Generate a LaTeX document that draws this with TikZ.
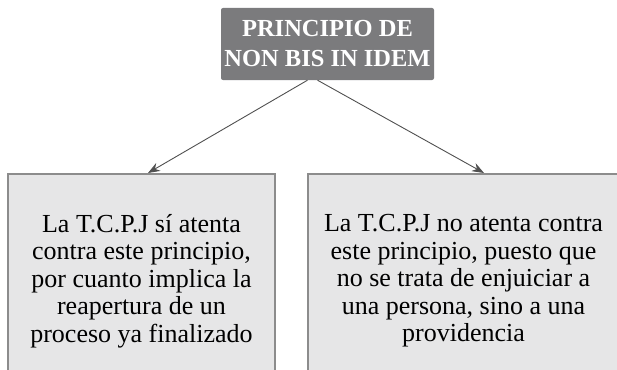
\documentclass[tikz,border=0pt]{standalone}
\usepackage{fontspec}
\setmainfont{Liberation Serif}
\usetikzlibrary{arrows.meta}
\definecolor{headgray}{HTML}{7B7B7D}
\definecolor{casegray}{HTML}{E6E6E7}
\definecolor{edgegray}{HTML}{8C8C8C}
\definecolor{linkgray}{HTML}{505050}
\begin{document}
\begin{tikzpicture}[x=1pt,y=-1pt,
  headbox/.style={fill=headgray,rounded corners=2pt,text=white,align=center,
    font=\fontsize{24.5}{30}\selectfont\bfseries,minimum width=213pt,minimum height=72pt},
  casebox/.style={fill=casegray,draw=edgegray,line width=2pt,align=center,
    font=\fontsize{26}{27.5}\selectfont,minimum height=214pt},
  link/.style={-{Stealth[length=12pt,width=9pt]},draw=linkgray,line width=0.9pt}]
  \useasboundingbox (0,0) rectangle (617,369);

  % Title
  \node[headbox] (head) at (327.5,44) {PRINCIPIO DE\\NON BIS IN IDEM};

  % Cases
  \node[casebox,minimum width=267pt] (yes) at (141.5,281)
    {La T.C.P.J sí atenta\\contra este principio,\\por cuanto implica la\\reapertura de un\\proceso ya finalizado};
  \node[casebox,minimum width=311pt] (no) at (463.5,281)
    {La T.C.P.J no atenta contra\\este principio, puesto que\\no se trata de enjuiciar a\\una persona, sino a una\\providencia};

  % Arrows
  \draw[link] ([xshift=-20pt]head.south) -- ([xshift=6.5pt]yes.north);
  \draw[link] ([xshift=-10pt]head.south) -- ([xshift=20.5pt]no.north);
\end{tikzpicture}
\end{document}
